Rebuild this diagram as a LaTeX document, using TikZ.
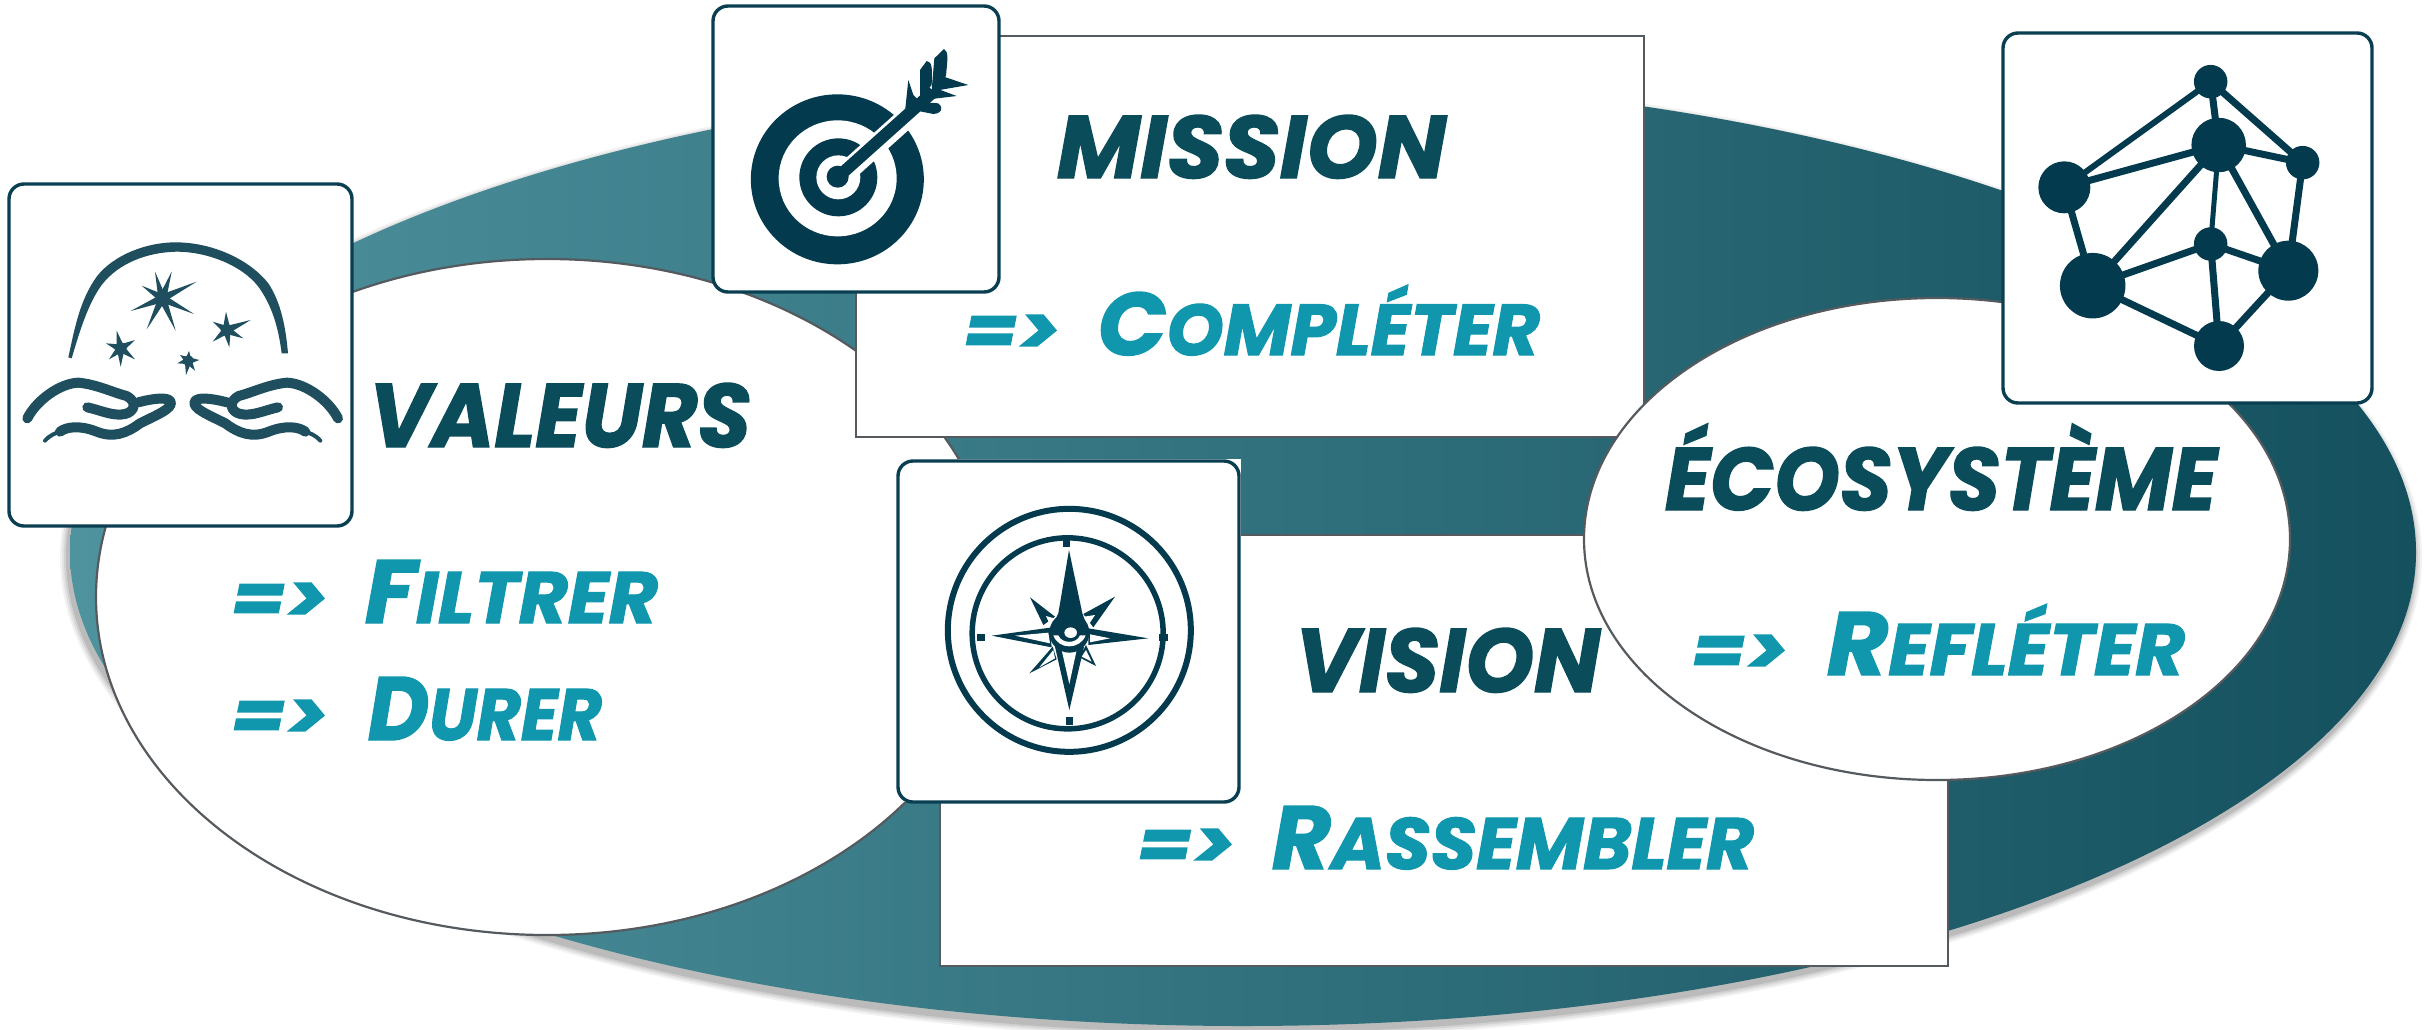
\documentclass[tikz,border=0pt]{standalone}
\usepackage{fontspec}
\usepackage{graphicx}
\setmainfont{Poppins}[BoldItalicFeatures={FakeBold=1.6}]
\usetikzlibrary{calc}
\definecolor{titlecol}{HTML}{0A4C5A}
\definecolor{verbcol}{HTML}{1097AE}
\definecolor{framecol}{HTML}{0A3F52}
\definecolor{iconA}{HTML}{1F4E5F}
\definecolor{iconB}{HTML}{033A4E}
\definecolor{edgecol}{HTML}{555A5E}
\definecolor{ellL}{HTML}{4F939F}
\definecolor{ellM}{HTML}{2F6F7B}
\definecolor{ellR}{HTML}{14505D}
\tikzset{
  blob/.style={draw=edgecol,line width=2.2pt,fill=white},
  panel/.style={draw=edgecol,line width=2.6pt,fill=white},
  iconframe/.style={draw=framecol,line width=3.4pt,fill=white,rounded corners=15pt},
  word/.style={anchor=base west,inner sep=0pt,outer sep=0pt},
  dot/.style={circle,fill=iconB,draw=none,inner sep=0pt},
  link/.style={draw=iconB,line width=7pt},
}
\newcommand\mk{\bfseries\itshape}
\newcommand\wordbox[3]{\resizebox{#1pt}{#2pt}{\mk\fontsize{40}{40}\selectfont #3}}
\newcommand\smc[2]{{\fontsize{50}{50}\selectfont #1}{\fontsize{40.5}{40}\selectfont #2}}
% arrow width, gap, word width, word
\newcommand\verbline[4]{\resizebox{#1pt}{40pt}{\mk\fontsize{40}{40}\selectfont =>}\hspace{#2pt}\wordbox{#3}{63}{#4}}
\newcommand\starburst[4]{% cx, cy, half width, tips
  \foreach \tx/\ty in {#4} {
    \fill ($(#1,#2)!#3!90:(\tx,\ty)$) -- (\tx,\ty) -- ($(#1,#2)!#3!-90:(\tx,\ty)$) -- cycle;
  }
  \fill (#1,#2) circle[radius=#3*1.5];
}
\newcommand\handpath{%
  \draw[line width=10pt,line cap=round,line join=round]
    (82,745) .. controls (110,690) and (180,640) .. (235,638)
    .. controls (290,643) and (340,668) .. (380,678)
    .. controls (412,695) and (405,725) .. (375,732)
    .. controls (340,740) and (300,720) .. (262,712);
  \draw[line width=10pt,line cap=round,line join=round]
    (180,785) .. controls (200,770) and (240,765) .. (290,785)
    .. controls (340,805) and (380,790) .. (420,760)
    .. controls (470,735) and (520,715) .. (512,695)
    .. controls (505,680) and (460,685) .. (415,697);
  \draw[line width=4pt,line cap=round] (135,812) .. controls (150,795) and (165,790) .. (185,783);
}
\begin{document}
\begin{tikzpicture}[x=1pt,y=-1pt]
\useasboundingbox (0,0) rectangle (2436,1029);
\fill[white] (0,0) rectangle (2436,1029);

% big ellipse with soft shadow
\foreach \g/\o in {8/.05,6/.06,4/.08,2/.10} {
  \fill[black,opacity=\o] (1241,557) ellipse [x radius=1173pt+\g pt,y radius=474pt+\g pt];
}
\path[shading=axis,left color=ellL,middle color=ellM,right color=ellR]
  (1243,552) ellipse [x radius=1173pt,y radius=474pt];

% white blob: valeurs
\path[blob] (547,597) ellipse [x radius=451pt,y radius=338pt];

% panels
\path[panel] (856,36) rectangle (1644,437);
\path[panel] (940,535) rectangle (1948,966);

% white blob: ecosysteme
\path[blob] (1937,539) ellipse [x radius=353pt,y radius=241pt];

% icon frames
\fill[white] (9,184) rectangle (352,526);
\path[iconframe] (9,184) rectangle (352,526);
\fill[white] (713,6) rectangle (999,292);
\path[iconframe] (713,6) rectangle (999,292);
\fill[white] (898,459) rectangle (1241,802);
\path[iconframe] (898,461) rectangle (1239,802);
\path[iconframe] (2003,33) rectangle (2372,403);

% icon: hands and stars
\begin{scope}[shift={(0,170)},x=.33333pt,y=-.33333pt,fill=iconA,draw=iconA]
  \fill (205,562) .. controls (225,470) and (240,390) .. (290,320)
    .. controls (340,255) and (440,216) .. (530,217)
    .. controls (640,218) and (750,270) .. (805,340)
    .. controls (845,400) and (858,480) .. (864,550) -- (845,550)
    .. controls (835,470) and (815,405) .. (775,350)
    .. controls (725,285) and (620,245) .. (530,245)
    .. controls (440,247) and (355,280) .. (305,345)
    .. controls (265,400) and (240,480) .. (215,565) -- cycle;
  \starburst{487}{385}{4pt}{465/305,515/305,590/335,582/432,527/482,440/478,392/423,425/347}
  \starburst{362}{535}{4pt}{350/482,405/510,405/568,362/590,327/568,318/520}
  \starburst{680}{480}{4pt}{678/425,752/450,730/505,688/532,638/515,638/455}
  \starburst{565}{572}{3.6pt}{567/543,598/570,585/602,558/615,532/580,540/555}
  \handpath
  \begin{scope}[shift={(1096,0)},xscale=-1]
    \handpath
  \end{scope}
\end{scope}

% icon: target
\begin{scope}[shift={(700,0)},x=.33333pt,y=-.33333pt,fill=iconB,draw=iconB]
  \fill (412,538) ellipse [x radius=86.5pt,y radius=85pt];
  \fill[white] (413,535) ellipse [x radius=59pt,y radius=58pt];
  \fill (415,532) circle [radius=39pt];
  \fill[white] (415,532) circle [radius=22pt];
  \fill (413,530) circle [radius=11pt];
  \draw[white,line width=21pt] (445,510) -- (640,335);
  \draw[line width=12pt] (415,530) -- (700,275);
  \fill (625,240) -- (640,285) -- (655,300) -- (615,335) -- cycle;
  \fill (680,183) .. controls (697,185) and (697,205) .. (695,255) -- (660,295) -- (660,210) -- cycle;
  \fill (732,147) .. controls (747,155) and (742,180) .. (738,228) -- (695,270) -- (703,175) -- cycle;
  \fill (725,228) -- (805,255) -- (690,275) -- cycle;
  \fill (700,262) -- (770,288) -- (670,300) -- cycle;
  \fill (650,305) -- (715,310) .. controls (732,325) and (725,340) .. (700,342) -- (640,330) -- cycle;
\end{scope}

% icon: compass
\begin{scope}[shift={(880,450)},x=.33333pt,y=-.33333pt,fill=iconB,draw=iconB]
  \draw[line width=6pt] (568,541) circle [radius=121.5pt];
  \draw[line width=5.5pt] (563,550) circle [radius=95.5pt];
  \draw[line width=7pt] (560,270) -- (560,292);
  \draw[line width=7pt] (290,563) -- (316,563);
  \draw[line width=7pt] (838,563) -- (864,563);
  \draw[line width=7pt] (568,802) -- (568,825);
  % diagonals
  \fill (450,442) -- (525,500) -- (490,525) -- cycle;
  \fill (705,440) -- (610,492) -- (640,532) -- cycle;
  \fill (448,670) -- (530,628) -- (518,590) -- cycle;
  \fill (648,648) -- (598,622) -- (618,585) -- cycle;
  \fill[white] (498,498) -- (522,505) -- (510,525) -- cycle;
  \fill[white] (645,495) -- (612,500) -- (625,525) -- cycle;
  \fill[white] (478,652) -- (525,625) -- (520,600) -- cycle;
  \fill[white] (635,635) -- (605,620) -- (618,600) -- cycle;
  % east, west, south
  \fill (805,565) -- (625,535) -- (625,585) -- cycle;
  \fill (335,557) -- (510,533) -- (515,592) -- cycle;
  \fill[white] (690,565) -- (630,553) -- (630,577) -- cycle;
  \fill[white] (405,557) -- (505,548) -- (510,580) -- cycle;
  \fill (568,780) -- (525,590) -- (612,590) -- cycle;
  \fill[white] (568,702) -- (545,600) -- (590,600) -- cycle;
  % north
  \fill (567,300) -- (607,490) -- (628,548) -- (508,548) -- (535,490) -- cycle;
  \fill (568,548) circle [radius=20pt];
  \fill[white] (520,556) .. controls (535,600) and (600,600) .. (617,556) -- (600,556) .. controls (590,582) and (545,582) .. (535,556) -- cycle;
  \fill[white] (572,548) ellipse [x radius=6.3pt,y radius=5.3pt];
\end{scope}

% icon: network
\begin{scope}[shift={(1980,20)},x=.33333pt,y=-.33333pt]
  \node[dot,minimum size=33.5pt] (na) at (692,185) {};
  \node[dot,minimum size=54.5pt] (nb) at (716,375) {};
  \node[dot,minimum size=33.5pt] (nc) at (968,428) {};
  \node[dot,minimum size=52pt] (nd) at (253,502) {};
  \node[dot,minimum size=65.5pt] (ne) at (338,797) {};
  \node[dot,minimum size=33.5pt] (nf) at (692,672) {};
  \node[dot,minimum size=60pt] (ng) at (925,752) {};
  \node[dot,minimum size=50pt] (nh) at (717,978) {};
  \draw[link,line width=6pt] (nd.center) -- (na.center);
  \draw[link] (na.center) -- (nb.center);
  \draw[link] (na.center) -- (nc.center);
  \draw[link] (nb.center) -- (nc.center);
  \draw[link] (nd.center) -- (nb.center);
  \draw[link] (ne.center) -- (nb.center);
  \draw[link,line width=5pt] (nb.center) -- (nf.center);
  \draw[link] (nb.center) -- (ng.center);
  \draw[link] (nc.center) -- (ng.center);
  \draw[link] (nd.center) -- (ne.center);
  \draw[link] (ne.center) -- (nf.center);
  \draw[link] (nf.center) -- (ng.center);
  \draw[link] (nf.center) -- (nh.center);
  \draw[link] (ne.center) -- (nh.center);
  \draw[link] (nh.center) -- (ng.center);
\end{scope}

% texts
\node[word,text=titlecol] (valeurs) at (369,447) {\wordbox{382}{64}{VALEURS}};
\node[word,text=verbcol] (filtrer) at (231,623) {\verbline{97}{37}{293}{\smc{F}{ILTRER}}};
\node[word,text=verbcol] (durer) at (231,740) {\verbline{97}{40}{234}{\smc{D}{URER}}};
\node[word,text=titlecol] (mission) at (1057,178) {\wordbox{389}{63}{MISSION}};
\node[word,text=verbcol] (completer) at (963,355) {\verbline{97}{38}{442}{\smc{C}{OMPL\smash{É}TER}}};
\node[word,text=titlecol] (vision) at (1295,692) {\wordbox{305}{64}{VISION}};
\node[word,text=verbcol] (rassembler) at (1137,869) {\verbline{98}{37}{482}{\smc{R}{ASSEMBLER}}};
\node[word,text=titlecol] (ecosysteme) at (1665,510) {\wordbox{552}{63}{\smash{É}COSYST\smash{È}ME}};
\node[word,text=verbcol] (refleter) at (1691,675) {\verbline{97}{39}{358}{\smc{R}{EFL\smash{É}TER}}};
\end{tikzpicture}
\end{document}
